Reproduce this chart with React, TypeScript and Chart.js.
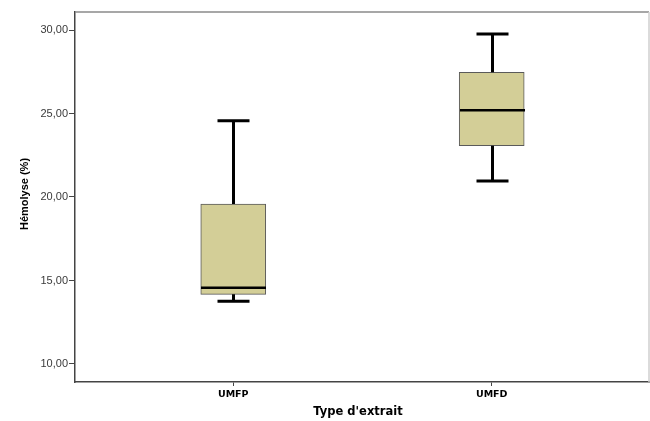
import React, { useEffect, useRef } from "react";
import { Chart, registerables } from "chart.js";

Chart.register(...registerables);

const categories = ["UMFP", "UMFD"];
const whiskerMin = [13.75, 20.96];
const q1 = [14.17, 23.07];
const median = [14.57, 25.19];
const q3 = [19.58, 27.47];
const whiskerMax = [24.57, 29.76];
const yTicks = [10, 15, 20, 25, 30];

const BOX_WIDTH = 65;
const CAP_WIDTH = 32;

const boxPlugin = {
  id: "boxWhiskers",
  afterDatasetsDraw(chart: any) {
    const { ctx, scales } = chart;
    const xs = scales.x;
    const ys = scales.y;
    ctx.save();
    ctx.strokeStyle = "#000";
    categories.forEach((_, i) => {
      const x = Math.round(xs.getPixelForValue(i)) + 0.5;
      const yMax = ys.getPixelForValue(whiskerMax[i]);
      const yMin = ys.getPixelForValue(whiskerMin[i]);
      const yQ1 = ys.getPixelForValue(q1[i]);
      const yQ3 = ys.getPixelForValue(q3[i]);
      const yMed = ys.getPixelForValue(median[i]);
      ctx.lineWidth = 3;
      ctx.beginPath();
      ctx.moveTo(x, yQ3);
      ctx.lineTo(x, yMax);
      ctx.moveTo(x, yQ1);
      ctx.lineTo(x, yMin);
      ctx.moveTo(x - CAP_WIDTH / 2, yMax);
      ctx.lineTo(x + CAP_WIDTH / 2, yMax);
      ctx.moveTo(x - CAP_WIDTH / 2, yMin);
      ctx.lineTo(x + CAP_WIDTH / 2, yMin);
      ctx.stroke();
      ctx.lineWidth = 2.5;
      ctx.beginPath();
      ctx.moveTo(x - BOX_WIDTH / 2, yMed);
      ctx.lineTo(x + BOX_WIDTH / 2, yMed);
      ctx.stroke();
    });
    ctx.restore();
  },
  afterDraw(chart: any) {
    const { ctx, chartArea } = chart;
    ctx.save();
    ctx.lineWidth = 1.5;
    ctx.strokeStyle = "#8a8a8a";
    ctx.beginPath();
    ctx.moveTo(chartArea.left, chartArea.top);
    ctx.lineTo(chartArea.right, chartArea.top);
    ctx.stroke();
    ctx.strokeStyle = "#cfcfcf";
    ctx.beginPath();
    ctx.moveTo(chartArea.right, chartArea.top);
    ctx.lineTo(chartArea.right, chartArea.bottom);
    ctx.stroke();
    ctx.fillStyle = "#000";
    ctx.textAlign = "center";
    ctx.textBaseline = "middle";
    ctx.font = "bold 11.5px 'DejaVu Sans'";
    ctx.fillText("Type d'extrait", 358, 412);
    ctx.translate(25, 194);
    ctx.rotate(-Math.PI / 2);
    ctx.font = "bold 11px 'Liberation Sans'";
    ctx.fillText("Hémolyse (%)", 0, 0);
    ctx.restore();
  },
};

export default function App() {
  const ref = useRef<HTMLCanvasElement>(null);
  useEffect(() => {
    document.body.style.margin = "0";
    const chart = new Chart(ref.current as HTMLCanvasElement, {
      type: "bar",
      data: {
        datasets: [
          {
            data: categories.map((_, i) => ({ x: i, y: [q1[i], q3[i]] })) as any,
            backgroundColor: "#d3ce97",
            borderColor: "#5a5a5a",
            borderWidth: 1,
            borderSkipped: false,
            barThickness: BOX_WIDTH,
          },
        ],
      },
      options: {
        animation: false,
        responsive: false,
        maintainAspectRatio: false,
        layout: { padding: { top: 12, right: 1, left: 0, bottom: 0 } },
        plugins: { legend: { display: false }, tooltip: { enabled: false } },
        scales: {
          x: {
            type: "linear",
            offset: false,
            min: -0.6123,
            max: 1.6086,
            afterBuildTicks: (s: any) => {
              s.ticks = categories.map((_, i) => ({ value: i }));
            },
            afterFit: (s: any) => {
              s.height = 39;
            },
            ticks: {
              callback: (v: any) => categories[v as number] ?? "",
              font: { family: "DejaVu Sans", size: 9.5, weight: "bold" },
              color: "#000",
              padding: 3,
              maxRotation: 0,
            },
            grid: {
              display: true,
              offset: false,
              drawOnChartArea: false,
              drawTicks: true,
              tickLength: 4,
              color: "#444",
            },
            border: { display: true, color: "#444", width: 1.5 },
          },
          y: {
            type: "linear",
            min: 8.92,
            max: 31.08,
            afterBuildTicks: (s: any) => {
              s.ticks = yTicks.map((v) => ({ value: v }));
            },
            afterFit: (s: any) => {
              s.width = 75;
            },
            ticks: {
              callback: (v: any) => Number(v).toFixed(2).replace(".", ","),
              font: { family: "Liberation Sans", size: 11 },
              color: "#3a3a3a",
              padding: 1,
            },
            grid: {
              display: true,
              drawOnChartArea: false,
              drawTicks: true,
              tickLength: 6,
              color: "#444",
            },
            border: { display: true, color: "#444", width: 1.5 },
          },
        },
      },
      plugins: [boxPlugin],
    });
    return () => chart.destroy();
  }, []);
  return <canvas ref={ref} width={650} height={421} />;
}
